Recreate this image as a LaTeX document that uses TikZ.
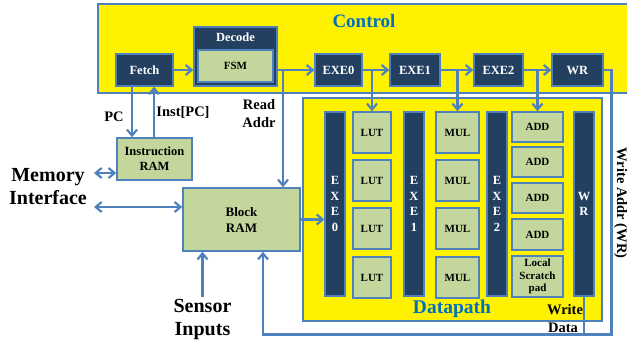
\documentclass[tikz,border=0pt]{standalone}
\usepackage{fontspec}
\setmainfont{Liberation Serif}
\usetikzlibrary{positioning,arrows.meta}
\definecolor{navy}{RGB}{36,64,97}
\definecolor{ramgreen}{RGB}{195,214,155}
\definecolor{wireblue}{RGB}{79,129,189}
\definecolor{titleblue}{RGB}{0,112,192}

\begin{document}
\begin{tikzpicture}[x=1pt, y=-1pt, font=\bfseries,
  region/.style={draw=wireblue, fill=yellow, line width=1.5pt},
  navybox/.style={draw=wireblue, fill=navy, text=white, line width=1.2pt, inner sep=0pt, font=\fontsize{12.5}{14}\selectfont\bfseries},
  greenbox/.style={draw=wireblue, fill=ramgreen, line width=1.5pt, inner sep=0pt, align=center, font=\fontsize{11}{13}\selectfont\bfseries},
  bar/.style={navybox, minimum width=20pt, minimum height=184pt, align=center, font=\fontsize{12.5}{15.5}\selectfont\bfseries},
  lbl/.style={align=center, inner sep=1pt, font=\fontsize{14.5}{18}\selectfont\bfseries},
  big/.style={align=center, inner sep=1pt, font=\fontsize{20}{23}\selectfont\bfseries},
  arrow/.style={-{Straight Barb[length=6pt,width=10pt]}, draw=wireblue, line width=2.2pt},
  dblarrow/.style={{Straight Barb[length=6pt,width=10pt]}-{Straight Barb[length=6pt,width=10pt]}, draw=wireblue, line width=2.2pt},
  wire/.style={draw=wireblue, line width=2.2pt}
]
\useasboundingbox (0,0) rectangle (627,341);
\draw[region] (98,4) rectangle (634,93);
\draw[region] (303,98) rectangle (602,321);
\node[big, text=titleblue, font=\fontsize{19}{22}\selectfont\bfseries] (ctrltitle) at (364,21) {Control};
\node[big, text=titleblue, font=\fontsize{19.5}{22}\selectfont\bfseries] (dptitle) at (452,309) {Datapath};

\node[navybox, minimum width=57pt, minimum height=32pt] (fetch) at (144.5,70) {Fetch};
\node[navybox, minimum width=83pt, minimum height=59pt] (decode) at (235.5,56.5) {};
\node[text=white, font=\fontsize{12.5}{14}\selectfont\bfseries] (decodetxt) at (235.5,37) {Decode};
\node[greenbox, minimum width=75pt, minimum height=32pt] (fsm) at (235.5,66) {FSM};
\node[navybox, minimum width=47pt, minimum height=32pt] (exe0) at (338.5,70) {EXE0};
\node[navybox, minimum width=50pt, minimum height=32pt] (exe1) at (415,70) {EXE1};
\node[navybox, minimum width=49pt, minimum height=32pt] (exe2) at (498.5,70) {EXE2};
\node[navybox, minimum width=51pt, minimum height=32pt] (wr) at (577.5,70) {WR};

\node[bar] (bar0) at (335,204) {E\\X\\E\\0};
\node[bar] (bar1) at (414,204) {E\\X\\E\\1};
\node[bar] (bar2) at (497,204) {E\\X\\E\\2};
\node[bar] (barwr) at (584,204) {W\\R};

\node[greenbox, minimum width=38pt, minimum height=41pt] (lut1) at (372,132.5) {LUT};
\node[greenbox, minimum width=38pt, minimum height=41pt] (lut2) at (372,180.5) {LUT};
\node[greenbox, minimum width=38pt, minimum height=41pt] (lut3) at (372,228.5) {LUT};
\node[greenbox, minimum width=38pt, minimum height=41pt] (lut4) at (372,277.5) {LUT};
\node[greenbox, minimum width=43pt, minimum height=41pt] (mul1) at (457.5,132.5) {MUL};
\node[greenbox, minimum width=43pt, minimum height=41pt] (mul2) at (457.5,180.5) {MUL};
\node[greenbox, minimum width=43pt, minimum height=41pt] (mul3) at (457.5,228.5) {MUL};
\node[greenbox, minimum width=43pt, minimum height=41pt] (mul4) at (457.5,277.5) {MUL};
\node[greenbox, minimum width=51pt, minimum height=30pt] (add1) at (537.5,127) {ADD};
\node[greenbox, minimum width=51pt, minimum height=30pt] (add2) at (537.5,162) {ADD};
\node[greenbox, minimum width=51pt, minimum height=30pt] (add3) at (537.5,198) {ADD};
\node[greenbox, minimum width=51pt, minimum height=31pt] (add4) at (537.5,234.5) {ADD};
\node[greenbox, minimum width=51pt, minimum height=41pt, font=\fontsize{11}{12.5}\selectfont\bfseries] (scratch) at (537.5,276.5) {Local\\Scratch\\pad};

\node[greenbox, minimum width=75pt, minimum height=42pt, font=\fontsize{12.5}{15}\selectfont\bfseries] (instram) at (154.5,159) {Instruction\\RAM};
\node[greenbox, minimum width=117pt, minimum height=63pt, font=\fontsize{13}{16}\selectfont\bfseries] (blockram) at (241.5,219.5) {Block\\RAM};

\node[big] (mem) at (48,187) {Memory\\Interface};
\node[big, inner sep=3pt] (sensor) at (202.5,320) {Sensor\\Inputs};
\node[lbl] (pclbl) at (114,117) {PC};
\node[lbl] (instlbl) at (183,112) {Inst[PC]};
\node[lbl] (rdlbl) at (259,114) {Read\\Addr};
\node[lbl, rotate=-90, inner sep=0pt] (walbl) at (620.5,203) {Write Addr (WR)};
\node[lbl] (wdlbl1) at (565,310) {Write};
\node[lbl] (wdlbl2) at (563,328) {Data};

\coordinate (rdtap) at (283,70);
\coordinate (memtap1) at (94,173);
\coordinate (memtap2) at (94,207);
\coordinate (wbcorner) at (611.5,334.5);

\draw[arrow] (fetch.east) -- (fetch.east -| decode.west);
\draw[arrow] (exe0.west -| decode.east) -- (exe0.west);
\draw[arrow] (exe0) -- (exe1);
\draw[arrow] (exe1) -- (exe2);
\draw[arrow] (exe2) -- (wr);
\draw[arrow] (rdtap) -- (rdtap |- blockram.north);
\draw[arrow] (lut1.north |- exe0.east) -- (lut1.north);
\draw[arrow] (mul1.north |- exe1.east) -- (mul1.north);
\draw[arrow] (add1.north |- exe2.east) -- (add1.north);
\draw[arrow] ([xshift=-12.5pt]fetch.south) -- ([xshift=-12.5pt]fetch.south |- instram.north);
\draw[arrow] ([xshift=9.5pt]fetch.south |- instram.north) -- ([xshift=9.5pt]fetch.south);
\draw[dblarrow] (memtap1) -- (memtap1 -| instram.west);
\draw[dblarrow] (memtap2) -- (memtap2 -| blockram.west);
\draw[arrow] (blockram.east) -- (blockram.east -| bar0.west);
\draw[arrow] (sensor.north) -- (sensor.north |- blockram.south);
\draw[arrow] (wr.east) -| (wbcorner) -| ([xshift=21.5pt]blockram.south);
\draw[wire] (barwr.south) -- (barwr.south |- wbcorner);
\end{tikzpicture}
\end{document}
